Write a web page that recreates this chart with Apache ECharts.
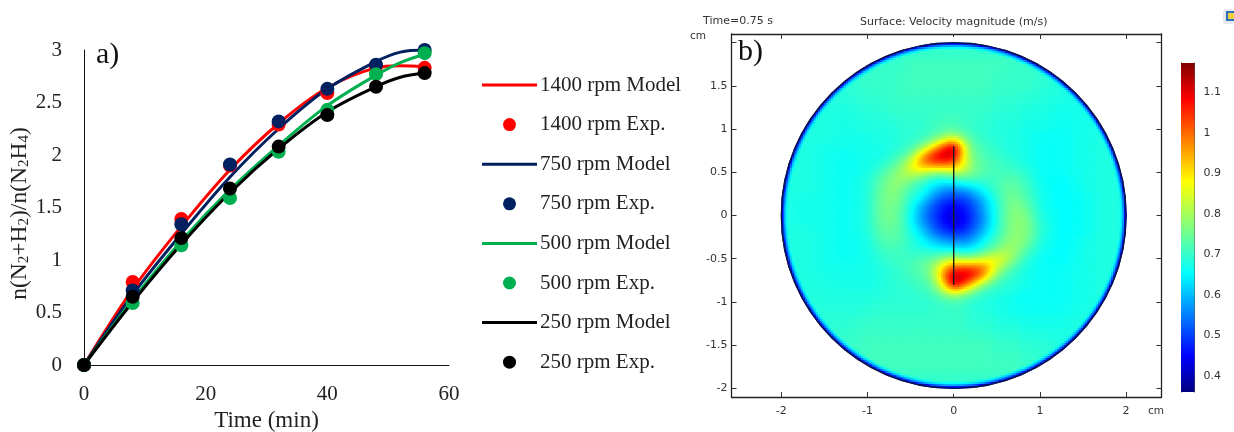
<!DOCTYPE html>
<html><head><meta charset="utf-8">
<style>html,body{margin:0;padding:0;background:#fff}#c{width:1234px;height:432px}</style>
<script src="https://cdn.jsdelivr.net/npm/echarts@6/dist/echarts.min.js"></script>
</head><body><div id="c"></div>
<script>
// ---------- panel a) ----------
const expTimes = [0,8,16,24,32,40,48,56];
const modelTimes = [0,8,16,24,32,40,48,52,56];
const model1400 = [0,0.72,1.32,1.86,2.30,2.64,2.83,2.85,2.84];
const exp1400   = [0,0.79,1.39,1.90,2.29,2.59,2.84,2.83];
const model750  = [0,0.67,1.25,1.79,2.25,2.63,2.89,2.98,3.00];
const exp750    = [0,0.71,1.34,1.91,2.32,2.63,2.86,3.00];
const model500  = [0,0.62,1.18,1.67,2.09,2.47,2.76,2.88,2.96];
const exp500    = [0,0.59,1.14,1.59,2.03,2.43,2.77,2.97];
const model250  = [0,0.60,1.15,1.64,2.06,2.41,2.65,2.74,2.78];
const exp250    = [0,0.65,1.21,1.68,2.08,2.38,2.65,2.78];
const xTickLabels = [0,20,40,60];
const yTickLabels = [0,0.5,1,1.5,2,2.5,3];

// ---------- panel b): velocity magnitude (m/s x 100) ----------
const fieldX = [-2,-1.75,-1.5,-1.25,-1,-.85,-.7,-.6,-.5,-.4,-.3,-.2,-.1,0,.1,.2,.3,.4,.5,.6,.7,.85,1,1.25,1.5,1.75,2];
const fieldY = [2,1.75,1.5,1.25,1,.9,.8,.7,.6,.5,.4,.3,.2,.1,0,-.1,-.2,-.3,-.4,-.5,-.6,-.7,-.8,-.9,-1,-1.25,-1.5,-1.75,-2];
const fieldRows = [
[69,69,69,69,69,69,69,69,69,69,69,69,69,69,69,69,69,69,69,69,69,69,69,69,69,69,69],
[69,69,69,70,70,70,70,70,71,71,71,71,71,71,71,71,71,71,71,71,70,70,70,69,69,69,69],
[68,68,69,69,70,70,70,71,71,71,71,71,71,71,71,71,71,71,70,70,70,70,69,68,68,68,68],
[68,68,68,68,69,69,70,70,70,70,70,70,70,70,70,70,70,70,69,69,69,68,68,67,67,68,68],
[68,68,68,67,68,68,68,69,69,69,70,71,72,72,71,70,69,69,68,68,68,67,67,66,67,68,68],
[68,68,68,67,67,68,68,69,69,70,71,74,78,82,76,72,70,69,69,68,68,67,66,66,67,68,68],
[68,68,67,67,67,67,68,69,70,73,80,92,106,116,92,74,72,70,69,68,68,67,66,66,67,68,68],
[68,68,67,66,67,67,69,71,76,90,104,112,114,114,92,76,73,71,70,69,68,67,66,66,67,68,68],
[68,68,67,66,67,68,72,77,86,96,102,104,104,100,90,78,74,72,71,70,69,67,66,66,67,68,68],
[68,68,67,66,67,71,76,80,85,85,80,77,78,82,82,77,74,72,71,71,71,69,66,66,67,68,68],
[68,68,67,66,68,73,78,79,75,71,68,66,65,66,70,70,70,70,71,73,73,70,66,65,67,68,68],
[68,68,67,66,68,74,78,75,71,69,65,60,57,56,57,60,64,68,71,74,74,71,67,65,67,68,68],
[68,67,67,66,68,75,77,74,69,66,60,54,50,49,50,53,58,64,69,74,76,72,67,65,66,68,68],
[68,67,67,66,68,75,76,73,67,60,54,49,46,44,46,50,55,62,68,74,77,74,67,65,66,68,68],
[68,67,67,66,68,75,76,72,66,59,53,49,44,41,44,48,54,61,68,74,78,76,68,65,66,68,68],
[68,67,67,66,68,74,75,72,66,60,54,49,45,42,44,49,54,61,68,74,78,77,69,65,66,68,68],
[68,68,67,66,68,73,74,72,68,64,59,53,50,48,49,52,58,64,69,75,78,77,69,65,66,68,68],
[68,68,67,66,67,72,73,72,69,67,63,60,58,56,56,58,63,68,72,76,79,76,68,65,67,68,68],
[68,68,67,66,67,70,71,70,69,68,68,67,66,66,64,65,68,72,76,80,79,72,67,65,67,68,68],
[68,68,67,66,67,69,71,71,71,72,73,75,78,82,78,78,82,86,88,85,77,69,66,65,67,68,68],
[68,68,67,67,67,68,69,70,72,73,76,82,96,102,104,104,102,96,84,76,71,67,66,66,67,68,68],
[68,68,67,67,67,68,69,70,71,72,74,84,102,114,114,112,104,90,76,71,69,67,66,66,67,68,68],
[68,68,68,67,67,68,69,69,70,71,72,78,94,116,106,92,80,73,70,69,68,67,66,66,67,68,68],
[69,68,68,68,68,68,69,69,69,70,70,73,78,82,78,74,70,69,68,68,67,66,66,66,67,68,68],
[69,69,68,68,68,69,69,69,69,69,69,70,70,71,70,69,68,68,67,67,66,66,66,66,67,68,68],
[69,69,69,69,70,70,70,70,70,70,70,70,70,70,70,69,69,69,68,68,68,67,67,67,68,68,68],
[69,69,70,70,71,71,71,71,71,71,71,71,71,71,71,71,71,71,70,70,70,69,69,68,68,69,69],
[69,69,70,70,71,71,71,71,71,71,71,71,71,71,71,71,71,71,71,71,71,70,70,69,69,69,69],
[69,69,69,69,69,69,69,69,69,69,69,69,69,69,69,69,69,69,69,69,69,69,69,69,69,69,69]
];
// wall layer, radius (cm) and velocity (m/s x 100) read at the rim
const rimRadius = [1.93,1.96,1.98,1.995,2.00];
const rimValue  = [68,60,50,40,36];
const bladeLine = [[0,0.8],[0,-0.8]];
const rimCircle = [-2,2,2,-2];
const fieldXTicks = [-2,-1,0,1,2];
const fieldYLabels = [-2,-1.5,-1,-0.5,0,0.5,1,1.5];
const fieldYTicks = [-2,-1.5,-1,-0.5,0,0.5,1,1.5,2];
const colorRange = [0.36,1.173];
const colorTicks = [0.4,0.5,0.6,0.7,0.8,0.9,1,1.1];
const jetPos = [0,0.11,0.36,0.5,0.64,0.89,1];
const jetRGB = [[0,0,128],[0,0,255],[0,255,255],[128,255,128],[255,255,0],[255,0,0],[128,0,0]];

// ---------- helpers ----------
const serif = 'Liberation Serif', sans = 'DejaVu Sans';
const pair = (t,v)=>t.map((x,i)=>[x,v[i]]);
function jet(v){
  const t=Math.max(0,Math.min(1,(v-colorRange[0])/(colorRange[1]-colorRange[0])));
  let i=0; while(i<jetPos.length-2 && t>jetPos[i+1]) i++;
  const f=(t-jetPos[i])/(jetPos[i+1]-jetPos[i]);
  const c=jetRGB[i].map((a,k)=>Math.round(a+(jetRGB[i+1][k]-a)*f));
  return `rgb(${c[0]},${c[1]},${c[2]})`;
}
function bracket(arr,v,desc){
  for(let i=0;i<arr.length-1;i++){
    const a=arr[i],b=arr[i+1];
    if(desc? (v<=a&&v>=b):(v>=a&&v<=b)) return [i,(v-a)/(b-a)];
  }
  return [arr.length-2,1];
}
function sampleField(x,y){
  const [i,fx]=bracket(fieldX,x,false), [j,fy]=bracket(fieldY,y,true);
  const a=fieldRows[j][i],b=fieldRows[j][i+1],c=fieldRows[j+1][i],d=fieldRows[j+1][i+1];
  return a*(1-fx)*(1-fy)+b*fx*(1-fy)+c*(1-fx)*fy+d*fx*fy;
}
function sampleRim(r){
  if(r<rimRadius[0]) return 999;
  const [i,f]=bracket(rimRadius,Math.min(r,2),false);
  return rimValue[i]+(rimValue[i+1]-rimValue[i])*f;
}
// fine raster of the read grid, softened so that the surface looks continuous
const step=0.025, N=160;
let raster=[];
for(let j=0;j<N;j++){const row=[];for(let i=0;i<N;i++){
  row.push(sampleField(-2+(i+.5)*step,2-(j+.5)*step));
}raster.push(row);}
function soften(src,rad){
  const out=src.map(r=>r.slice());
  for(let j=0;j<N;j++)for(let i=0;i<N;i++){
    let s=0,n=0;
    for(let dj=-rad;dj<=rad;dj++)for(let di=-rad;di<=rad;di++){
      const a=j+dj,b=i+di;
      if(a>=0&&a<N&&b>=0&&b<N){s+=src[a][b];n++;}
    }
    out[j][i]=s/n;
  }
  return out;
}
raster=soften(soften(raster,2),2);
const cells=[];
for(let j=0;j<N;j++)for(let i=0;i<N;i++){
  const x=-2+i*step,y=2-j*step,r=Math.hypot(x+step/2,y-step/2);
  if(r>2.02) continue;
  cells.push([x,y,Math.min(raster[j][i],sampleRim(r))/100]);
}

const C={r:'#ff0000',n:'#002060',g:'#00b050',k:'#000000'};
function modelS(name,v,color){return {name,type:'line',xAxisIndex:0,yAxisIndex:0,data:pair(modelTimes,v),smooth:0.35,symbol:'none',
  lineStyle:{color,width:3},itemStyle:{color},z:3};}
function expS(name,v,color){return {name,type:'scatter',xAxisIndex:0,yAxisIndex:0,data:pair(expTimes,v),symbol:'circle',symbolSize:14,
  itemStyle:{color,opacity:1},z:4};}
const legendNames=['1400 rpm Model','1400 rpm Exp.','750 rpm Model','750 rpm Exp.','500 rpm Model','500 rpm Exp.','250 rpm Model','250 rpm Exp.'];
const lineIcon='path://M0 0L0 0ZM0 5H55V8H0ZM55 13L55 13Z';
const sub=(t)=>`{s|${t}}`;
const yName=`{n|n(N}${sub(2)}{n|+H}${sub(2)}{n|)/n(N}${sub(2)}{n|H}${sub(4)}{n|)}`;
const boxLine={show:true,onZero:false,lineStyle:{color:'#222',width:1.3}};
const tick=(vals)=>({show:true,inside:true,length:5,lineStyle:{color:'#333',width:1},customValues:vals});
const fieldLabel={color:'#333',fontFamily:sans,fontSize:11};

const opt={
  animation:false,backgroundColor:'#fff',
  grid:[
    {left:84,top:50,width:365,height:315,outerBoundsMode:'none'},
    {left:731.5,top:34,width:430,height:363,outerBoundsMode:'none'},
    {left:1181,top:63,width:13.5,height:329,outerBoundsMode:'none'}
  ],
  xAxis:[
    {gridIndex:0,type:'value',min:0,max:60,interval:20,splitLine:{show:false},axisTick:{show:false},
      axisLine:{show:true,onZero:false,lineStyle:{color:'#111',width:1}},
      axisLabel:{color:'#222',fontFamily:serif,fontSize:21,margin:19,formatter:v=>xTickLabels.includes(v)?String(v):''},
      name:'Time (min)',nameLocation:'middle',nameGap:44,nameTextStyle:{color:'#222',fontFamily:serif,fontSize:23}},
    {gridIndex:1,type:'value',min:-2.578,max:2.411,position:'bottom',splitLine:{show:false},axisLine:boxLine,axisTick:tick(fieldXTicks),
      axisLabel:{...fieldLabel,margin:9,customValues:fieldXTicks,formatter:v=>String(v)}},
    {gridIndex:1,type:'value',min:-2.578,max:2.411,position:'top',splitLine:{show:false},axisLine:boxLine,axisTick:tick(fieldXTicks),axisLabel:{show:false}},
    {gridIndex:2,type:'value',min:0,max:1,show:false}
  ],
  yAxis:[
    {gridIndex:0,type:'value',min:0,max:3,interval:0.5,splitLine:{show:false},axisTick:{show:false},
      axisLine:{show:true,onZero:false,lineStyle:{color:'#111',width:1}},
      axisLabel:{color:'#222',fontFamily:serif,fontSize:21,margin:22,formatter:v=>yTickLabels.includes(v)?String(v):''},
      name:yName,nameLocation:'middle',nameGap:41,nameRotate:90,
      nameTextStyle:{padding:[0,12,0,0],rich:{n:{color:'#222',fontFamily:serif,fontSize:23.5},s:{color:'#222',fontFamily:serif,fontSize:15,verticalAlign:'bottom',padding:[7,0,0,0]}}}},
    {gridIndex:1,type:'value',min:-2.1,max:2.1,position:'left',splitLine:{show:false},axisLine:boxLine,axisTick:tick(fieldYTicks),
      axisLabel:{...fieldLabel,margin:4,customValues:fieldYLabels,formatter:v=>String(v)}},
    {gridIndex:1,type:'value',min:-2.1,max:2.1,position:'right',splitLine:{show:false},axisLine:boxLine,axisTick:tick(fieldYTicks),axisLabel:{show:false}},
    {gridIndex:2,type:'value',min:colorRange[0],max:colorRange[1],position:'left',splitLine:{show:false},
      axisLine:{show:true,onZero:false,lineStyle:{color:'#555',width:1}},
      axisTick:{show:true,inside:true,length:3,lineStyle:{color:'#333'},customValues:colorTicks},axisLabel:{show:false}},
    {gridIndex:2,type:'value',min:colorRange[0],max:colorRange[1],position:'right',splitLine:{show:false},
      axisLine:{show:true,onZero:false,lineStyle:{color:'#555',width:1}},
      axisTick:{show:true,inside:true,length:3,lineStyle:{color:'#333'},customValues:colorTicks},
      axisLabel:{...fieldLabel,margin:9,customValues:colorTicks,formatter:v=>String(v)}}
  ],
  legend:{orient:'vertical',left:482,top:74.5,padding:0,itemWidth:55,itemHeight:13,itemGap:18.6,
    data:legendNames.map(n=>n.endsWith('Model')?{name:n,icon:lineIcon}:{name:n,icon:'circle'}),
    textStyle:{color:'#222',fontFamily:serif,fontSize:21,padding:[0,0,0,-2]},selectedMode:false},
  graphic:[
    {type:'text',left:96,top:40,style:{text:'a)',font:'30px "Liberation Serif"',fill:'#111'}},
    {type:'text',left:738,top:37,style:{text:'b)',font:'30px "Liberation Serif"',fill:'#111'},z:10},
    {type:'text',left:703,top:16,style:{text:'Time=0.75 s',font:'11px "DejaVu Sans"',fill:'#333'}},
    {type:'text',left:860,top:17,style:{text:'Surface: Velocity magnitude (m/s)',font:'11px "DejaVu Sans"',fill:'#333'}},
    {type:'text',left:690,top:31,style:{text:'cm',font:'10.5px "DejaVu Sans"',fill:'#333'}},
    {type:'text',left:1148,top:406,style:{text:'cm',font:'10.5px "DejaVu Sans"',fill:'#333'}},
    {type:'rect',left:1223,top:9,shape:{width:11,height:15,r:3},style:{fill:'#e4e7ee'}},
    {type:'rect',left:1226,top:11,shape:{width:8,height:10},style:{fill:'#2f6fc0'}},
    {type:'rect',left:1228,top:13,shape:{width:6,height:6},style:{fill:'#f0d040'}}
  ],
  series:[
    modelS(legendNames[0],model1400,C.r),expS(legendNames[1],exp1400,C.r),
    modelS(legendNames[2],model750,C.n),expS(legendNames[3],exp750,C.n),
    modelS(legendNames[4],model500,C.g),expS(legendNames[5],exp500,C.g),
    modelS(legendNames[6],model250,C.k),expS(legendNames[7],exp250,C.k),
    {type:'custom',xAxisIndex:1,yAxisIndex:1,data:cells,silent:true,progressive:0,clip:false,z:2,encode:{x:0,y:1},
      renderItem(p,api){
        const a=api.coord([api.value(0),api.value(1)]), s=api.size([step,step]);
        return {type:'rect',shape:{x:a[0],y:a[1],width:s[0]+0.7,height:s[1]+0.7},style:{fill:jet(api.value(2))}};
      }},
    {type:'custom',xAxisIndex:1,yAxisIndex:1,data:[rimCircle],silent:true,clip:false,z:3,
      renderItem(p,api){
        const a=api.coord([api.value(0),api.value(1)]), b=api.coord([api.value(2),api.value(3)]);
        const cx=(a[0]+b[0])/2,cy=(a[1]+b[1])/2,rx=(b[0]-a[0])/2,ry=(b[1]-a[1])/2;
        return {type:'group',children:[
          {type:'ellipse',shape:{cx,cy,rx:rx+3.2,ry:ry+3.2},style:{fill:'none',stroke:'#fff',lineWidth:5}},
          {type:'ellipse',shape:{cx,cy,rx,ry},style:{fill:'none',stroke:'#0a1548',lineWidth:1.4}}
        ]};
      }},
    {type:'line',xAxisIndex:1,yAxisIndex:1,data:bladeLine,symbol:'none',silent:true,z:4,lineStyle:{color:'#1a1a1a',width:1.4}},
    {type:'custom',xAxisIndex:3,yAxisIndex:3,data:[[0,colorRange[0],1,colorRange[1]]],silent:true,z:1,
      renderItem(p,api){
        const a=api.coord([api.value(0),api.value(3)]), b=api.coord([api.value(2),api.value(1)]);
        return {type:'rect',shape:{x:a[0],y:a[1],width:b[0]-a[0],height:b[1]-a[1]},
          style:{fill:new echarts.graphic.LinearGradient(0,1,0,0,jetPos.map((q,i)=>({offset:q,color:`rgb(${jetRGB[i].join(',')})`})))}};
      }}
  ]
};
const chart=echarts.init(document.getElementById('c'),null,{renderer:'canvas'});
chart.setOption(opt);
</script></body></html>
